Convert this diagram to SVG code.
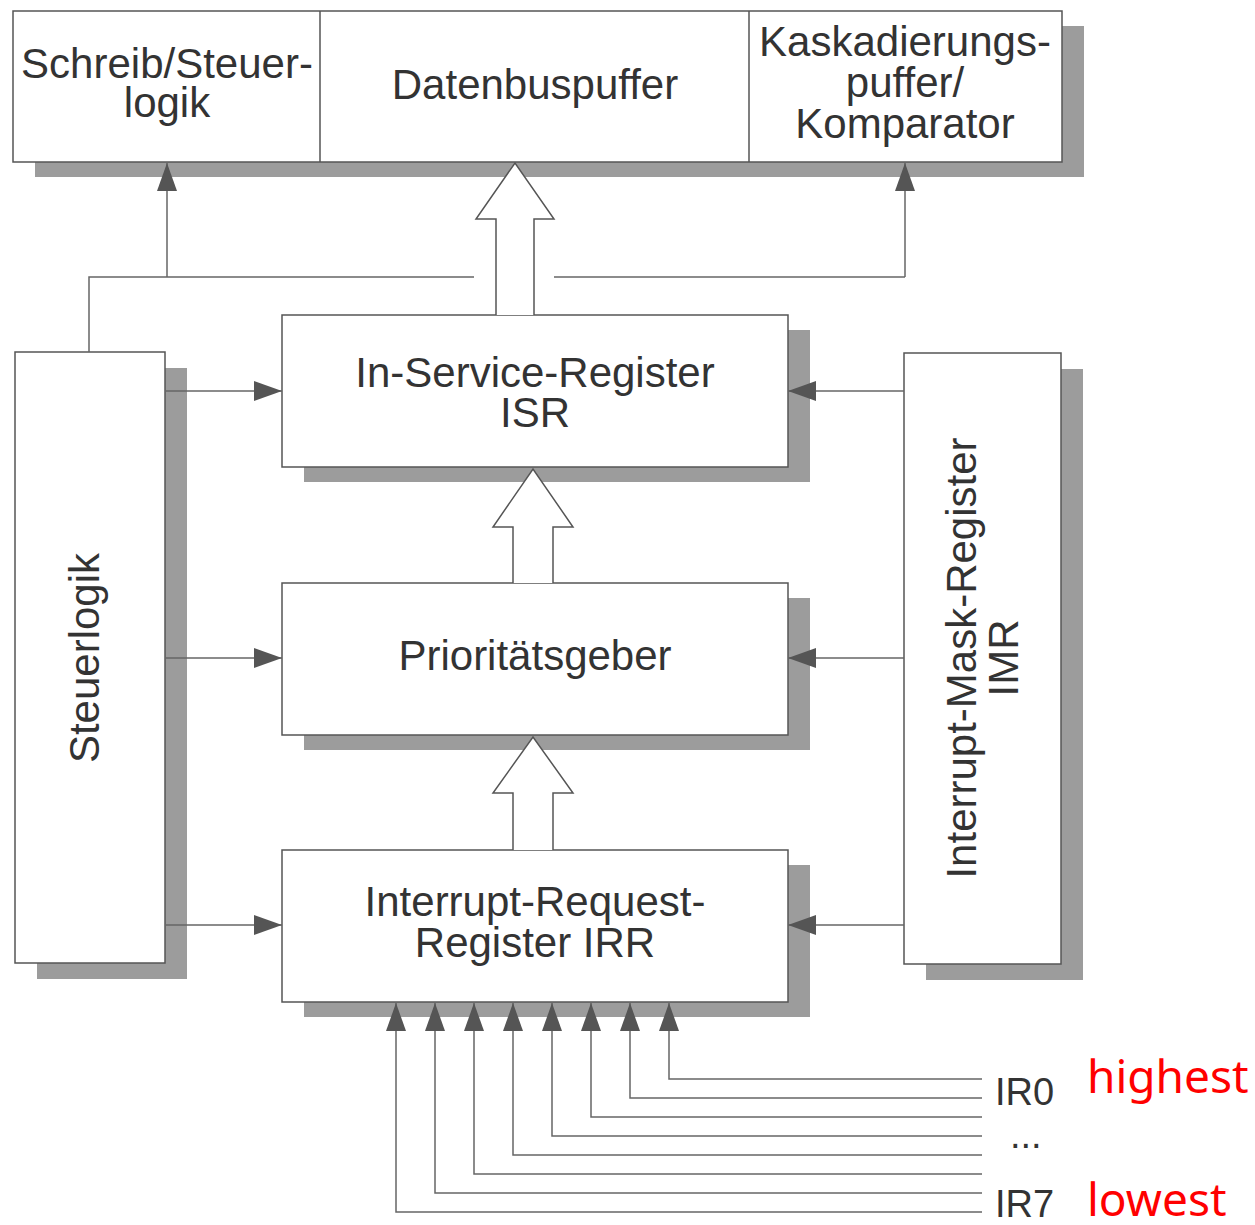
<svg xmlns="http://www.w3.org/2000/svg" width="1255" height="1225" viewBox="0 0 1255 1225">
<style>
.shadow{fill:#9c9c9c}
.box{fill:#fff;stroke:#555;stroke-width:1.5}
.lbl{font-family:"Liberation Sans",Arial,sans-serif;font-size:42px;fill:#333;text-anchor:middle}
.ir{font-family:"Liberation Sans",Arial,sans-serif;font-size:38px;fill:#333}
.red{font-family:"Noto Sans",sans-serif;font-size:46px;fill:#ff0000}
.wire{fill:none;stroke:#666;stroke-width:1.5}
.hollow{fill:#fff;stroke:#555;stroke-width:1.5}
</style>
<defs>
<marker id="ah" markerUnits="userSpaceOnUse" markerWidth="28" markerHeight="20" refX="28" refY="10" orient="auto">
<path d="M0,0 L28,10 L0,20 z" fill="#555"/>
</marker>
</defs>
<rect width="1255" height="1225" fill="#fff"/>

<g id="top-block">
<rect class="shadow" x="35" y="26" width="1049" height="151"/>
<rect class="box" x="13" y="11" width="1049" height="151"/>
<line x1="320" y1="11" x2="320" y2="162" stroke="#555" stroke-width="1.5"/>
<line x1="749" y1="11" x2="749" y2="162" stroke="#555" stroke-width="1.5"/>
</g>
<g id="schreib-steuerlogik">
<text class="lbl" x="167" y="78">Schreib/Steuer-</text>
<text class="lbl" x="167" y="117">logik</text>
</g>
<g id="datenbuspuffer">
<text class="lbl" x="535" y="99">Datenbuspuffer</text>
</g>
<g id="kaskadierungspuffer">
<text class="lbl" x="905" y="56">Kaskadierungs-</text>
<text class="lbl" x="905" y="97">puffer/</text>
<text class="lbl" x="905" y="138">Komparator</text>
</g>

<g id="steuerlogik">
<rect class="shadow" x="37" y="368" width="150" height="611"/>
<rect class="box" x="15" y="352" width="150" height="611"/>
<text class="lbl" transform="translate(99,658) rotate(-90)">Steuerlogik</text>
</g>

<g id="imr">
<rect class="shadow" x="926" y="369" width="157" height="611"/>
<rect class="box" x="904" y="353" width="157" height="611"/>
<text class="lbl" transform="translate(976,658) rotate(-90)">Interrupt-Mask-Register</text>
<text class="lbl" transform="translate(1018,658) rotate(-90)">IMR</text>
</g>

<g id="isr">
<rect class="shadow" x="304" y="330" width="506" height="152"/>
<rect class="box" x="282" y="315" width="506" height="152"/>
<text class="lbl" x="535" y="387">In-Service-Register</text>
<text class="lbl" x="535" y="427">ISR</text>
</g>

<g id="prioritaetsgeber">
<rect class="shadow" x="304" y="598" width="506" height="152"/>
<rect class="box" x="282" y="583" width="506" height="152"/>
<text class="lbl" x="535" y="670">Prioritätsgeber</text>
</g>

<g id="irr">
<rect class="shadow" x="304" y="865" width="506" height="152"/>
<rect class="box" x="282" y="850" width="506" height="152"/>
<text class="lbl" x="535" y="916">Interrupt-Request-</text>
<text class="lbl" x="535" y="957">Register IRR</text>
</g>

<g id="connectors">
<path class="wire" d="M89,352 V277 H474"/>
<path class="wire" d="M554,277 H905"/>
<path class="wire" d="M167,277 V163" marker-end="url(#ah)"/>
<path class="wire" d="M905,277 V163" marker-end="url(#ah)"/>
<path class="hollow" d="M496,315 V219 H476 L515,163 L554,219 H534 V315"/>
<path class="hollow" d="M513,583 V527 H493 L533,469 L573,527 H553 V583"/>
<path class="hollow" d="M513,850 V793 H493 L533,737 L573,793 H553 V850"/>
<path class="wire" d="M165,391 H282" marker-end="url(#ah)"/>
<path class="wire" d="M165,658 H282" marker-end="url(#ah)"/>
<path class="wire" d="M165,925 H282" marker-end="url(#ah)"/>
<path class="wire" d="M904,391 H788" marker-end="url(#ah)"/>
<path class="wire" d="M904,658 H788" marker-end="url(#ah)"/>
<path class="wire" d="M904,925 H788" marker-end="url(#ah)"/>
<path class="wire" d="M982,1079 H669 V1003" marker-end="url(#ah)"/>
<path class="wire" d="M982,1098 H630 V1003" marker-end="url(#ah)"/>
<path class="wire" d="M982,1117 H591 V1003" marker-end="url(#ah)"/>
<path class="wire" d="M982,1136 H552 V1003" marker-end="url(#ah)"/>
<path class="wire" d="M982,1155 H513 V1003" marker-end="url(#ah)"/>
<path class="wire" d="M982,1174 H474 V1003" marker-end="url(#ah)"/>
<path class="wire" d="M982,1193 H435 V1003" marker-end="url(#ah)"/>
<path class="wire" d="M982,1212 H396 V1003" marker-end="url(#ah)"/>
</g>

<g id="labels">
<text class="ir" x="995" y="1105">IR0</text>
<text class="ir" x="1010" y="1148">...</text>
<text class="ir" x="995" y="1217">IR7</text>
<text class="red" x="1087" y="1093">highest</text>
<text class="red" x="1087" y="1216">lowest</text>
</g>
</svg>
